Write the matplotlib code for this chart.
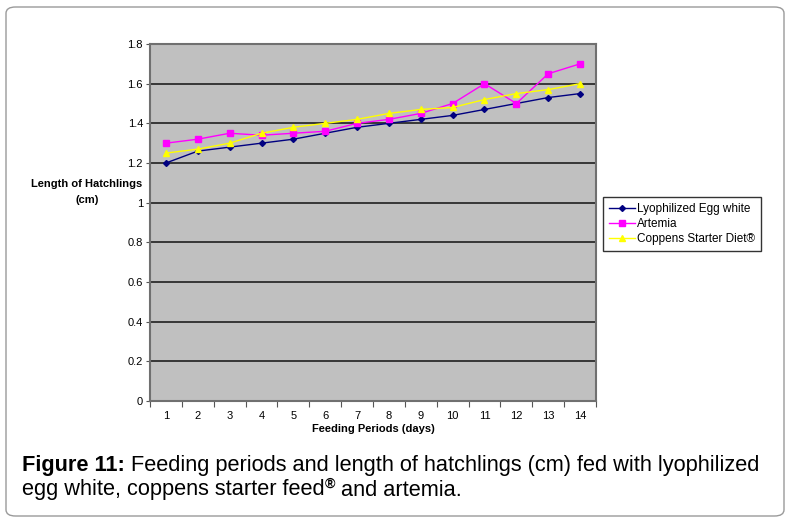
import numpy as np
import matplotlib
matplotlib.use('Agg')
import matplotlib.pyplot as plt
from matplotlib.patches import FancyBboxPatch

plt.rcParams['font.family'] = ['Liberation Sans', 'DejaVu Sans']

dias = list(range(1, 15))
clara_huevo = [1.20, 1.26, 1.28, 1.30, 1.32, 1.35, 1.38, 1.40, 1.42, 1.44, 1.47, 1.50, 1.53, 1.55]
artemia = [1.30, 1.32, 1.35, 1.34, 1.35, 1.36, 1.40, 1.42, 1.45, 1.50, 1.60, 1.50, 1.65, 1.70]
coppens = [1.25, 1.27, 1.30, 1.35, 1.38, 1.40, 1.42, 1.45, 1.47, 1.48, 1.52, 1.55, 1.57, 1.60]
yticks = [0, 0.2, 0.4, 0.6, 0.8, 1, 1.2, 1.4, 1.6, 1.8]

W, H = 788, 522
fig = plt.figure(figsize=(W/100, H/100), dpi=100)

# marco redondeado
marco = FancyBboxPatch((6/W, 6/H), 778/W, 509/H, boxstyle="round,pad=0,rounding_size=0.012",
                       transform=fig.transFigure, fill=False, edgecolor='#9a9a9a', lw=1.0)
fig.patches.append(marco)

ax = fig.add_axes([150/W, 1-401/H, 446/W, 357/H])
ax.set_facecolor('#c0c0c0')
x = np.arange(len(dias)) + 0.5
ax.plot(x, clara_huevo, color='#000080', marker='D', ms=3, lw=1, label='Lyophilized Egg white')
ax.plot(x, artemia, color='#ff00ff', marker='s', ms=5, lw=1, label='Artemia')
ax.plot(x, coppens, color='#ffff00', marker='^', ms=4, lw=1, label='Coppens Starter Diet\u00ae')

ax.set_xlim(0, len(dias))
ax.set_ylim(0, 1.8)
ax.set_yticks(yticks)
ax.set_yticklabels(['0', '0.2', '0.4', '0.6', '0.8', '1', '1.2', '1.4', '1.6', '1.8'], fontsize=8)
for yv in yticks[1:]:
    ax.axhline(yv, color='#202020', lw=1.2, zorder=0.5)
ax.set_xticks(np.arange(len(dias) + 1))
ax.set_xticklabels([])
ax.set_xticks(x, minor=True)
ax.set_xticklabels([str(d) for d in dias], minor=True, fontsize=8)
ax.tick_params(axis='x', which='minor', length=0, pad=7)
ax.tick_params(axis='x', which='major', length=4, color='#555555')
ax.tick_params(axis='y', length=3, color='#555555', pad=2)
for s in ax.spines.values():
    s.set_color('#707070')
    s.set_linewidth(1.5)
ax.set_xlabel('Feeding Periods (days)', fontsize=8, fontweight='bold', labelpad=2)

# etiqueta del eje y, en dos lineas
fig.text(87/W, 1-184/H, 'Length of Hatchlings', fontsize=8, fontweight='bold', ha='center', va='center')
fig.text(87/W, 1-200/H, '(cm)', fontsize=8, fontweight='bold', ha='center', va='center')

leg = ax.legend(loc='upper left', bbox_to_anchor=(603/W, 1-197/H), bbox_transform=fig.transFigure,
                fontsize=8.5, frameon=True, fancybox=False, edgecolor='black', borderpad=0.5,
                handlelength=2.2, handletextpad=0.2, labelspacing=0.25, borderaxespad=0)
leg.get_frame().set_linewidth(1.0)

# pie de figura
fs = 15.7
r = fig.canvas.get_renderer()
t1 = fig.text(22/W, 1-466/H, 'Figure 11:', fontsize=fs, fontweight='bold', va='center')
bb = t1.get_window_extent(r)
fig.text(bb.x1/W, 1-466/H, ' Feeding periods and length of hatchlings (cm) fed with lyophilized',
         fontsize=fs, va='center')
t3 = fig.text(22/W, 1-490/H, 'egg white, coppens starter feed', fontsize=fs, va='center')
bb3 = t3.get_window_extent(r)
t4 = fig.text(bb3.x1/W, 1-484/H, '\u00ae', fontsize=fs*0.65, va='center', fontweight='bold')
bb4 = t4.get_window_extent(r)
fig.text(bb4.x1/W, 1-490/H, ' and artemia.', fontsize=fs, va='center')

fig.savefig('out.png', dpi=100)
